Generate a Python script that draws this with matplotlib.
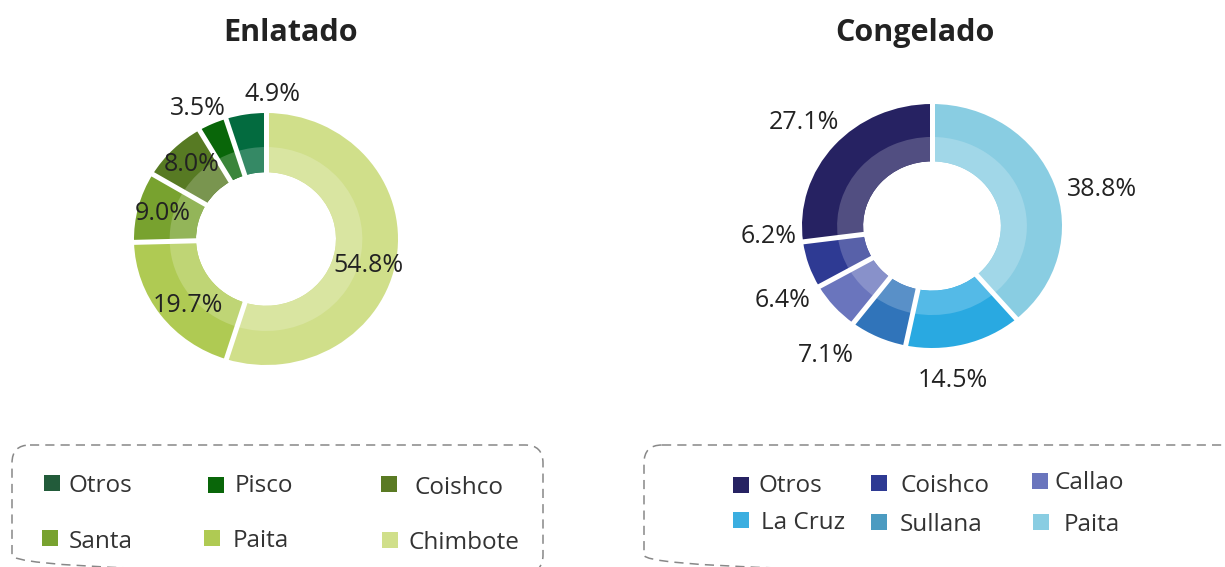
import matplotlib
matplotlib.use("Agg")
import matplotlib.pyplot as plt
import matplotlib.colors as mcolors
from matplotlib.patches import FancyBboxPatch, Rectangle
import numpy as np

# --- data -------------------------------------------------------------
enl_names = ["Chimbote", "Paita", "Santa", "Coishco", "Pisco", "Otros"]
enl_values = [54.8, 19.7, 9.0, 8.0, 3.5, 4.9]
enl_colors = ["#d0df8a", "#afca53", "#78a22f", "#577a23", "#096609", "#036b3f"]
enl_legend_names = ["Otros", "Pisco", "Coishco", "Santa", "Paita", "Chimbote"]
enl_legend_colors = ["#225b3a", "#096609", "#5a7a23", "#78a22f", "#afca53", "#d0df8a"]

con_names = ["Paita", "La Cruz", "Sullana", "Callao", "Coishco", "Otros"]
con_values = [38.8, 14.5, 7.1, 6.4, 6.2, 27.1]
con_colors = ["#89cde2", "#29a9e1", "#3074ba", "#6a75bd", "#2e3a93", "#262262"]
con_legend_names = ["Otros", "Coishco", "Callao", "La Cruz", "Sullana", "Paita"]
con_legend_colors = ["#262262", "#2e3a93", "#6a75bd", "#3baee0", "#4b9bc1", "#89cde2"]

# --- layout (pixels) --------------------------------------------------
W, H = 1225, 567
HOLE, BAND = 0.53, 0.73
FONT = "Open Sans"

enl_geom = dict(cx=266, cy=239, rx=132, ry=126)
con_geom = dict(cx=932, cy=226, rx=130, ry=122)
enl_label_shift = [5, -4, 1, 2, -2, 11.4]
enl_label_r = [0.80, 0.78, 0.81, 0.83, 1.175, 1.168]
con_label_shift = [6.5, 7, 13.7, 14, 15.5, 0]
con_label_r = [1.35, 1.26, 1.32, 1.29, 1.26, 1.31]

enl_sq = [(52, 483), (216, 485), (389, 484), (50, 538), (212, 538), (390, 540)]
enl_txt = [(69, 483), (235, 483), (415, 485), (69, 539), (233, 538), (409, 540)]
con_sq = [(741, 485), (879, 483), (1039.5, 480.5), (741, 520), (879, 521.5), (1041, 521.5)]
con_txt = [(758, 483), (901, 483), (1055, 480), (761, 520), (900, 522), (1064, 522)]


def lighten(c, amt=0.2):
    rgb = np.array(mcolors.to_rgb(c))
    return tuple(rgb + (1 - rgb) * amt)


def donut(fig, geom, values, colors, shifts, radii):
    half = 235
    cx, cy, rx, ry = geom["cx"], geom["cy"], geom["rx"], geom["ry"]
    ax = fig.add_axes([(cx - half) / W, (H - cy - half) / H, 2 * half / W, 2 * half / H])
    ax.pie(values, colors=colors, startangle=90, counterclock=False, radius=1,
           wedgeprops=dict(width=1 - HOLE, linewidth=0))
    ax.pie(values, colors=[lighten(c) for c in colors], startangle=90, counterclock=False,
           radius=BAND, wedgeprops=dict(width=BAND - HOLE, linewidth=0))
    ax.set_aspect("auto")
    ax.set_xlim(-half / rx, half / rx)
    ax.set_ylim(-half / ry, half / ry)
    ax.axis("off")

    total = float(np.sum(values))
    cum = np.concatenate([[0], np.cumsum(values)]) / total * 360.0
    for a in cum[:-1]:
        t = np.radians(a)
        ax.plot([HOLE * 0.9 * np.sin(t), 1.05 * np.sin(t)], [HOLE * 0.9 * np.cos(t), 1.05 * np.cos(t)],
                color="white", lw=3.6, solid_capstyle="butt")
    for i, v in enumerate(values):
        t = np.radians((cum[i] + cum[i + 1]) / 2 + shifts[i])
        ax.annotate(f"{v:.1f}%", xy=(radii[i] * np.sin(t), radii[i] * np.cos(t)),
                    xytext=(0, -6.4), textcoords="offset points", ha="center", va="baseline",
                    fontsize=18, family=FONT, color="#222222", annotation_clip=False)
    return ax


fig = plt.figure(figsize=(W / 100, H / 100), dpi=100)
fig.patch.set_facecolor("white")

# overlay in pixel coordinates for titles and legends
ov = fig.add_axes([0, 0, 1, 1])
ov.set_xlim(0, W)
ov.set_ylim(H, 0)
ov.axis("off")

ov.text(291, 41, "Enlatado", ha="center", va="baseline", fontsize=22,
        fontweight="bold", family=FONT, color="#222222")
ov.text(915, 41, "Congelado", ha="center", va="baseline", fontsize=22,
        fontweight="bold", family=FONT, color="#222222")

for x0, x1 in [(12, 543), (644, 1245)]:
    box = FancyBboxPatch((x0, 445), x1 - x0, 128, boxstyle="round,pad=0,rounding_size=18",
                         fill=False, edgecolor="#888888", linewidth=1.1, linestyle=(0, (6, 4)))
    ov.add_patch(box)


def legend(names, colors, sq, txt):
    for name, c, (sx, sy), (tx, ty) in zip(names, colors, sq, txt):
        ov.add_patch(Rectangle((sx - 8, sy - 8), 16, 16, facecolor=c, edgecolor="none"))
        ov.annotate(name, xy=(tx, ty), xytext=(0, -6.2), textcoords="offset points",
                    ha="left", va="baseline", fontsize=17.5, family=FONT, color="#333333")


legend(enl_legend_names, enl_legend_colors, enl_sq, enl_txt)
legend(con_legend_names, con_legend_colors, con_sq, con_txt)

donut(fig, enl_geom, enl_values, enl_colors, enl_label_shift, enl_label_r)
donut(fig, con_geom, con_values, con_colors, con_label_shift, con_label_r)

fig.savefig("out.png", dpi=100)
